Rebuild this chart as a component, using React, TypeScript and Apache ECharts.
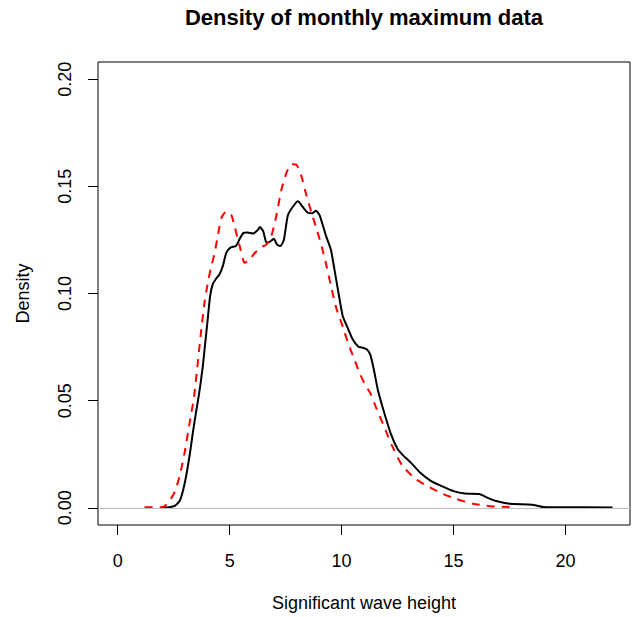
import React, { useEffect, useRef } from "react";
import * as echarts from "echarts";

const titleText = "Density of monthly maximum data";
const xTitle = "Significant wave height";
const yTitle = "Density";
const xTicks = [0, 5, 10, 15, 20];
const yTicks = [0, 0.05, 0.1, 0.15, 0.2];

// solid black density curve
const blackX = [1.95, 2.3, 2.55, 2.78, 3.0, 3.22, 3.37, 3.52, 3.6, 3.7, 3.8, 3.9, 4.02, 4.13, 4.25, 4.4, 4.55, 4.7, 4.85, 5.05, 5.28, 5.45, 5.62, 5.8, 6.05, 6.27, 6.35, 6.5, 6.65, 6.8, 6.97, 7.12, 7.27, 7.42, 7.6, 7.83, 8.05, 8.25, 8.48, 8.68, 8.85, 9.02, 9.3, 9.52, 9.68, 9.84, 10.05, 10.25, 10.5, 10.75, 10.9, 11.12, 11.28, 11.43, 11.62, 11.9, 12.2, 12.5, 12.75, 13.1, 13.5, 14.0, 14.5, 15.0, 15.5, 16.15, 16.5, 16.9, 17.5, 18.5, 19.0, 19.7, 22.1];
const blackY = [0.0002, 0.0003, 0.0009, 0.0035, 0.0118, 0.025, 0.036, 0.046, 0.051, 0.058, 0.066, 0.076, 0.088, 0.099, 0.1045, 0.107, 0.109, 0.113, 0.119, 0.1215, 0.1222, 0.1255, 0.1283, 0.1285, 0.128, 0.1298, 0.131, 0.129, 0.1236, 0.1242, 0.1255, 0.1228, 0.1222, 0.125, 0.1365, 0.1406, 0.143, 0.1406, 0.1378, 0.1374, 0.1386, 0.1365, 0.127, 0.1205, 0.1112, 0.1015, 0.0895, 0.0845, 0.0785, 0.0752, 0.0748, 0.074, 0.0715, 0.065, 0.055, 0.0445, 0.0345, 0.0275, 0.0245, 0.021, 0.0165, 0.0125, 0.01, 0.0078, 0.0067, 0.0065, 0.0048, 0.0032, 0.0019, 0.0015, 0.0004, 0.0003, 0.0002];

// dashed red density curve
const redX = [1.2, 1.9, 2.1, 2.32, 2.54, 2.77, 2.99, 3.14, 3.29, 3.4, 3.55, 3.7, 3.88, 4.05, 4.2, 4.33, 4.48, 4.63, 4.85, 5.07, 5.22, 5.45, 5.67, 5.89, 6.12, 6.42, 6.64, 6.86, 7.08, 7.31, 7.53, 7.76, 7.99, 8.21, 8.44, 8.66, 8.89, 9.11, 9.33, 9.56, 9.78, 10.07, 10.3, 10.58, 10.81, 11.04, 11.28, 11.57, 11.88, 12.25, 12.71, 13.31, 13.92, 14.52, 15.12, 15.87, 16.63, 17.5];
const redY = [0.0003, 0.0003, 0.0008, 0.0034, 0.0073, 0.015, 0.0259, 0.0352, 0.0445, 0.051, 0.065, 0.08, 0.096, 0.1065, 0.1135, 0.119, 0.1274, 0.1352, 0.1383, 0.1367, 0.1313, 0.122, 0.1143, 0.1158, 0.1189, 0.1217, 0.1228, 0.1267, 0.136, 0.1484, 0.1561, 0.1603, 0.16, 0.1546, 0.1453, 0.1375, 0.1298, 0.122, 0.1127, 0.1019, 0.0926, 0.084, 0.0765, 0.069, 0.0627, 0.0577, 0.0535, 0.046, 0.0383, 0.029, 0.0197, 0.0135, 0.0096, 0.0065, 0.0042, 0.0019, 0.0008, 0.0004];

const FONT = "'Liberation Sans', Arial, sans-serif";

export default function App() {
  const ref = useRef<HTMLDivElement>(null);
  useEffect(() => {
    if (!ref.current) return;
    const chart = echarts.init(ref.current, undefined, { renderer: "svg" });
    const black = blackX.map((x, i) => [x, blackY[i]]);
    const red = redX.map((x, i) => [x, redY[i]]);
    chart.setOption({
      animation: false,
      backgroundColor: "#fff",
      title: {
        text: titleText,
        left: 364,
        top: 6,
        padding: 0,
        textAlign: "center",
        textStyle: { fontFamily: FONT, fontSize: 22, fontWeight: "bold", color: "#000" },
      },
      grid: {
        left: 98,
        top: 62,
        width: 532,
        height: 464,
        show: true,
        borderColor: "#000",
        borderWidth: 1,
        backgroundColor: "transparent",
      },
      xAxis: {
        type: "value",
        min: -0.88,
        max: 22.88,
        name: xTitle,
        nameLocation: "middle",
        nameGap: 69,
        nameTextStyle: { fontFamily: FONT, fontSize: 18, color: "#000" },
        axisLine: { show: false, onZero: false },
        splitLine: { show: false },
        axisTick: { show: true, length: 10, customValues: xTicks, lineStyle: { color: "#000" } },
        axisLabel: { customValues: xTicks, margin: 27, fontFamily: FONT, fontSize: 18, color: "#000" },
      },
      yAxis: {
        type: "value",
        min: -0.008,
        max: 0.208,
        name: yTitle,
        nameLocation: "middle",
        nameRotate: 90,
        nameGap: 66,
        nameTextStyle: { fontFamily: FONT, fontSize: 18, color: "#000" },
        axisLine: { show: false, onZero: false },
        splitLine: { show: false },
        axisTick: { show: true, length: 10, customValues: yTicks, lineStyle: { color: "#000" } },
        axisLabel: {
          customValues: yTicks,
          rotate: 90,
          margin: 24,
          fontFamily: FONT,
          fontSize: 18,
          color: "#000",
          formatter: (v: number) => v.toFixed(2),
        },
      },
      series: [
        {
          type: "line",
          data: black,
          showSymbol: false,
          smooth: 0.2,
          lineStyle: { color: "#000", width: 2 },
          markLine: {
            silent: true,
            symbol: ["none", "none"],
            label: { show: false },
            lineStyle: { color: "#bebebe", type: "solid", width: 1 },
            data: [{ yAxis: 0 }],
          },
        },
        {
          type: "line",
          data: red,
          showSymbol: false,
          smooth: 0.2,
          lineStyle: { color: "#ff0000", width: 2, type: [8, 7] },
        },
      ],
    });
    return () => chart.dispose();
  }, []);
  return (
    <div
      ref={ref}
      style={{ position: "fixed", left: 0, top: 0, width: 636, height: 617 }}
    />
  );
}
